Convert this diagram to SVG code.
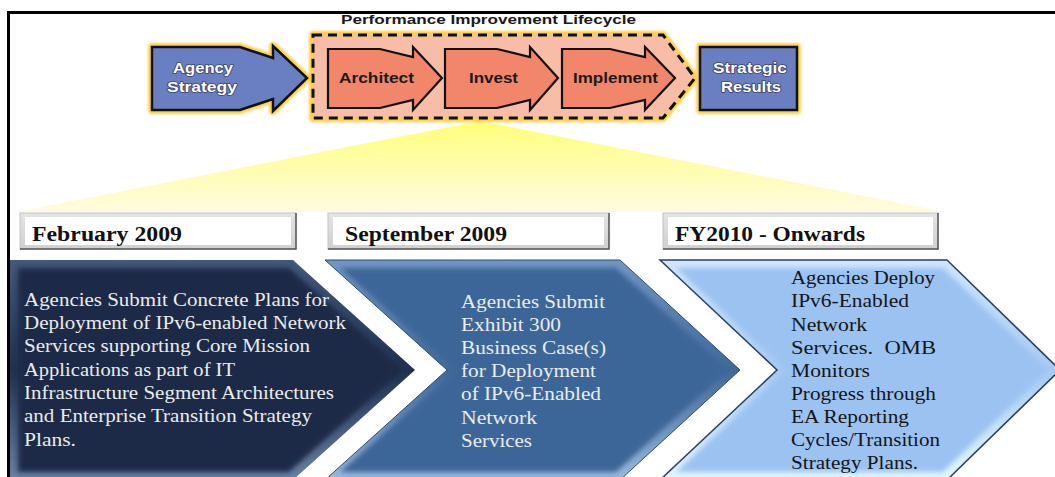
<svg xmlns="http://www.w3.org/2000/svg" width="1055" height="477" viewBox="0 0 1055 477">
<defs>
<linearGradient id="fan" x1="0" y1="0" x2="0" y2="1"><stop offset="0" stop-color="#ffff78"/><stop offset="1" stop-color="#fffbe2"/></linearGradient>
<linearGradient id="g1" x1="0" y1="0" x2="0" y2="1"><stop offset="0" stop-color="#43597c"/><stop offset="0.5" stop-color="#1f3150"/><stop offset="1" stop-color="#6a82a6"/></linearGradient>
<linearGradient id="g2" x1="0" y1="0" x2="0" y2="1"><stop offset="0" stop-color="#7396c4"/><stop offset="0.5" stop-color="#3f689a"/><stop offset="1" stop-color="#9ab9de"/></linearGradient>
<linearGradient id="g3" x1="0" y1="0" x2="0" y2="1"><stop offset="0" stop-color="#cfe6ff"/><stop offset="0.5" stop-color="#a6c9f3"/><stop offset="1" stop-color="#e2f8ff"/></linearGradient>
<filter id="soft" x="-5%" y="-5%" width="110%" height="110%"><feGaussianBlur stdDeviation="2.5"/></filter>
<filter id="glow" x="-10%" y="-20%" width="120%" height="140%"><feGaussianBlur stdDeviation="1.2"/></filter>
<linearGradient id="box" x1="0" y1="0" x2="0" y2="1"><stop offset="0" stop-color="#e4e4e4"/><stop offset="1" stop-color="#d0d0d0"/></linearGradient>
</defs>
<style>
.ttl{font-family:"Liberation Sans",Arial,sans-serif;font-weight:bold;font-size:13px;fill:#1a1a1a}
.wl{font-family:"Liberation Sans",Arial,sans-serif;font-weight:bold;font-size:14px;fill:#ffffff;stroke:#3a4470;stroke-width:1.6;paint-order:stroke;stroke-linejoin:round}
.ol{font-family:"Liberation Sans",Arial,sans-serif;font-weight:bold;font-size:14px;fill:#1a1a1a}
.gl{fill:none;stroke:#fdd04a;stroke-width:8;stroke-linejoin:round}
.arr{fill:#f2866a;stroke:#111;stroke-width:2.2;stroke-linejoin:miter}
.blue{fill:#6a7fc1;stroke:#111;stroke-width:2.5}
.date{font-family:"Liberation Serif","Times New Roman",serif;font-weight:bold;font-size:20px;fill:#111}
.body{font-family:"Liberation Serif","Times New Roman",serif;font-size:18.5px}
.lt{fill:#ececec}
.dk{fill:#151515}
</style>
<rect width="1055" height="477" fill="#ffffff"/>
<path d="M7 12.5 H1055 M8.5 12 V477" stroke="#000" stroke-width="3" fill="none"/>

<text class="ttl" x="341" y="24" textLength="295" lengthAdjust="spacingAndGlyphs">Performance Improvement Lifecycle</text>

<polygon id="fan-shape" points="480,121 16,212 946,212" fill="url(#fan)"/>

<g id="lifecycle">
<polygon class="gl" filter="url(#glow)" points="313,35 663,35 695,78 663,118 313,118"/>
<polygon points="313,35 663,35 695,78 663,118 313,118" fill="#f8bda7" stroke="#111" stroke-width="3" stroke-dasharray="9,6"/>
</g>

<g id="agency-strategy">
<polygon class="gl" filter="url(#glow)" points="152,47 240,47 273,58 273,46 307,78 273,111 273,99 240,110 152,110"/>
<polygon class="blue" points="152,47 240,47 273,58 273,46 307,78 273,111 273,99 240,110 152,110"/>
<text class="wl" x="173" y="73" textLength="60" lengthAdjust="spacingAndGlyphs">Agency</text>
<text class="wl" x="167" y="92" textLength="70" lengthAdjust="spacingAndGlyphs">Strategy</text>
</g>

<g id="architect">
<polygon class="arr" points="328,49 380,49 413,57 413,47 442,78 413,110 413,100 380,108 328,108"/>
<text class="ol" x="339" y="83" textLength="75" lengthAdjust="spacingAndGlyphs">Architect</text>
</g>
<g id="invest">
<polygon class="arr" points="445,49 497,49 530,57 530,47 558,78 530,110 530,100 497,108 445,108"/>
<text class="ol" x="469" y="83" textLength="49" lengthAdjust="spacingAndGlyphs">Invest</text>
</g>
<g id="implement">
<polygon class="arr" points="562,49 610,49 645,57 645,47 675,78 645,110 645,100 610,108 562,108"/>
<text class="ol" x="573" y="83" textLength="85" lengthAdjust="spacingAndGlyphs">Implement</text>
</g>

<g id="strategic-results">
<rect class="gl" filter="url(#glow)" x="700" y="47" width="97" height="63"/>
<rect class="blue" x="700" y="47" width="97" height="63"/>
<text class="wl" x="713" y="73" textLength="74" lengthAdjust="spacingAndGlyphs">Strategic</text>
<text class="wl" x="721" y="92" textLength="60" lengthAdjust="spacingAndGlyphs">Results</text>
</g>

<g id="date-feb">
<rect x="20" y="213" width="276" height="36" fill="url(#box)" stroke="#c4c4c4"/>
<rect x="25" y="217" width="266" height="28" fill="#ffffff"/>
<path d="M296 213 V249 H20" stroke="#555" stroke-width="1.5" fill="none"/>
<text class="date" x="32" y="241" textLength="150" lengthAdjust="spacingAndGlyphs">February 2009</text>
</g>
<g id="date-sep">
<rect x="328" y="213" width="281" height="36" fill="url(#box)" stroke="#c4c4c4"/>
<rect x="333" y="217" width="271" height="28" fill="#ffffff"/>
<path d="M609 213 V249 H328" stroke="#555" stroke-width="1.5" fill="none"/>
<text class="date" x="345" y="241" textLength="162" lengthAdjust="spacingAndGlyphs">September 2009</text>
</g>
<g id="date-fy">
<rect x="663" y="213" width="275" height="36" fill="url(#box)" stroke="#c4c4c4"/>
<rect x="668" y="217" width="265" height="28" fill="#ffffff"/>
<path d="M938 213 V249 H663" stroke="#555" stroke-width="1.5" fill="none"/>
<text class="date" x="675" y="241" textLength="190" lengthAdjust="spacingAndGlyphs">FY2010 - Onwards</text>
</g>

<g id="step-1">
<polygon points="10,260 293,260 415,370 293,480 10,480" fill="url(#g1)"/>
<polygon filter="url(#soft)" points="18,268 289,268 403,370 289,472 18,472" fill="#1b2b47"/>
<g class="body lt">
<text x="24" y="306" textLength="305" lengthAdjust="spacingAndGlyphs">Agencies Submit Concrete Plans for</text>
<text x="24" y="329" textLength="322" lengthAdjust="spacingAndGlyphs">Deployment of IPv6-enabled Network</text>
<text x="24" y="352" textLength="286" lengthAdjust="spacingAndGlyphs">Services supporting Core Mission</text>
<text x="24" y="376" textLength="211" lengthAdjust="spacingAndGlyphs">Applications as part of IT</text>
<text x="24" y="399" textLength="310" lengthAdjust="spacingAndGlyphs">Infrastructure Segment Architectures</text>
<text x="24" y="422" textLength="288" lengthAdjust="spacingAndGlyphs">and Enterprise Transition Strategy</text>
<text x="24" y="446" textLength="52" lengthAdjust="spacingAndGlyphs">Plans.</text>
</g>
</g>

<g id="step-2">
<polygon points="325,260 620,260 740,370 620,480 325,480 447,370" fill="url(#g2)" stroke="#2c4a72" stroke-width="1"/>
<polygon filter="url(#soft)" points="340,268 616,268 728,370 616,472 340,472 455,370" fill="#3d6698"/>
<g class="body lt">
<text x="461" y="308" textLength="144" lengthAdjust="spacingAndGlyphs">Agencies Submit</text>
<text x="461" y="331" textLength="100" lengthAdjust="spacingAndGlyphs">Exhibit 300</text>
<text x="461" y="354" textLength="145" lengthAdjust="spacingAndGlyphs">Business Case(s)</text>
<text x="461" y="377" textLength="135" lengthAdjust="spacingAndGlyphs">for Deployment</text>
<text x="461" y="400" textLength="140" lengthAdjust="spacingAndGlyphs">of IPv6-Enabled</text>
<text x="461" y="424" textLength="76" lengthAdjust="spacingAndGlyphs">Network</text>
<text x="461" y="447" textLength="71" lengthAdjust="spacingAndGlyphs">Services</text>
</g>
</g>

<g id="step-3">
<polygon points="660,260 947,260 1060,370 947,480 660,480 777,370" fill="url(#g3)" stroke="#2a3f5e" stroke-width="1.5"/>
<polygon filter="url(#soft)" points="676,268 943,268 1048,370 943,472 676,472 786,370" fill="#9cc2f1"/>
<g class="body dk">
<text x="791" y="284" textLength="144" lengthAdjust="spacingAndGlyphs">Agencies Deploy</text>
<text x="791" y="307" textLength="118" lengthAdjust="spacingAndGlyphs">IPv6-Enabled</text>
<text x="791" y="331" textLength="76" lengthAdjust="spacingAndGlyphs">Network</text>
<text x="791" y="354" textLength="145" lengthAdjust="spacingAndGlyphs">Services.&#160; OMB</text>
<text x="791" y="377" textLength="79" lengthAdjust="spacingAndGlyphs">Monitors</text>
<text x="791" y="400" textLength="145" lengthAdjust="spacingAndGlyphs">Progress through</text>
<text x="791" y="423" textLength="118" lengthAdjust="spacingAndGlyphs">EA Reporting</text>
<text x="791" y="446" textLength="149" lengthAdjust="spacingAndGlyphs">Cycles/Transition</text>
<text x="791" y="469" textLength="127" lengthAdjust="spacingAndGlyphs">Strategy Plans.</text>
</g>
</g>
</svg>
